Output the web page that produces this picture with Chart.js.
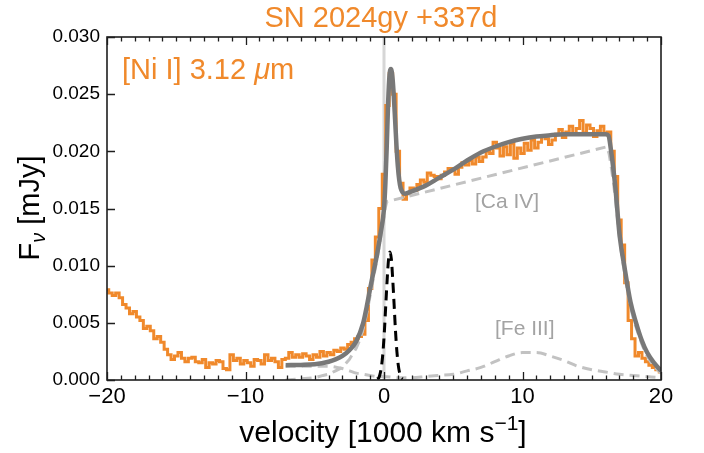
<!DOCTYPE html>
<html><head><meta charset="utf-8">
<script src="https://cdn.jsdelivr.net/npm/chart.js@4.4.0/dist/chart.umd.min.js"></script>
<style>html,body{margin:0;padding:0;background:#fff}#wrap{width:704px;height:453px}</style>
</head><body><div id="wrap"><canvas id="c" width="704" height="453"></canvas></div>
<script>
// ---- data (velocity in 1000 km/s, flux in mJy) ----
const velocity = [-20,-19.75,-19.5,-19.25,-19,-18.75,-18.5,-18.25,-18,-17.75,-17.5,-17.25,-17,-16.75,-16.5,-16.25,-16,-15.75,-15.5,-15.25,-15,-14.75,-14.5,-14.25,-14,-13.75,-13.5,-13.25,-13,-12.75,-12.5,-12.25,-12,-11.75,-11.5,-11.25,-11,-10.75,-10.5,-10.25,-10,-9.75,-9.5,-9.25,-9,-8.75,-8.5,-8.25,-8,-7.75,-7.5,-7.25,-7,-6.75,-6.5,-6.25,-6,-5.75,-5.5,-5.25,-5,-4.75,-4.5,-4.25,-4,-3.75,-3.5,-3.25,-3,-2.75,-2.5,-2.25,-2,-1.75,-1.5,-1.25,-1,-0.75,-0.5,-0.25,0,0.25,0.5,0.75,1,1.25,1.5,1.75,2,2.25,2.5,2.75,3,3.25,3.5,3.75,4,4.25,4.5,4.75,5,5.25,5.5,5.75,6,6.25,6.5,6.75,7,7.25,7.5,7.75,8,8.25,8.5,8.75,9,9.25,9.5,9.75,10,10.25,10.5,10.75,11,11.25,11.5,11.75,12,12.25,12.5,12.75,13,13.25,13.5,13.75,14,14.25,14.5,14.75,15,15.25,15.5,15.75,16,16.25,16.5,16.75,17,17.25,17.5,17.75,18,18.25,18.5,18.75,19,19.25,19.5,19.75,20];
const flux = [
0.0079,0.0076,0.0074,0.0076,
0.0072,0.0066,0.0063,0.0058,
0.0060,0.0055,0.0052,0.0045,
0.0047,0.0043,0.0036,0.0038,
0.0033,0.0027,0.0022,0.0018,
0.0021,0.0024,0.0019,0.0016,
0.0019,0.0020,0.0016,0.0015,
0.0018,0.0011,0.0015,0.0014,
0.0017,0.0016,0.0010,0.0009,
0.0022,0.0017,0.0019,0.0014,
0.0017,0.0015,0.0012,0.0018,
0.0017,0.0014,0.0022,0.0017,
0.0019,0.0016,0.0011,0.0018,
0.0019,0.0024,0.0020,0.0022,
0.0020,0.0023,0.0021,0.0018,
0.0022,0.0020,0.0025,0.0021,
0.0024,0.0022,0.0026,0.0025,
0.0028,0.0027,0.0031,0.0033,
0.0036,0.0038,0.0040,0.0052,
0.0080,0.0105,0.0125,0.0150,
0.0180,0.0240,0.0268,0.0250,
0.0200,0.0172,0.0158,0.0163,
0.0168,0.0166,0.0171,0.0175,
0.0173,0.0181,0.0179,0.0178,
0.0176,0.0179,0.0182,0.0185,
0.0184,0.0180,0.0186,0.0190,
0.0188,0.0192,0.0189,0.0195,
0.0191,0.0195,0.0200,0.0198,
0.0208,0.0203,0.0196,0.0204,
0.0197,0.0207,0.0194,0.0203,
0.0198,0.0207,0.0201,0.0210,
0.0203,0.0208,0.0213,0.0211,
0.0206,0.0210,0.0215,0.0219,
0.0212,0.0217,0.0222,0.0215,
0.0220,0.0227,0.0216,0.0223,
0.0220,0.0213,0.0218,0.0222,
0.0216,0.0217,0.0200,0.0178,
0.0140,0.0118,0.0085,0.0052,
0.0036,0.0021,0.0024,0.0019,
0.0016,0.0013,0.0011,0.0009,
0.0007];

const modelVel  = [-7.1,-6,-5,-4,-3.5,-3,-2.5,-2,-1.5,-1.25,-1,-0.75,-0.5,-0.25,0,0.1,0.2,0.3,0.4,0.5,0.6,0.7,0.8,0.9,1.0,1.1,1.2,1.35,1.5,2,3,4,5,6,7,8,9,10,11,12,13,14,15,16,16.2,16.4,16.7,17,17.4,17.8,18.2,18.6,19,19.5,20];
const modelFlux = [0.0013,0.00132,0.00138,0.0016,0.0018,0.0021,0.0026,0.0034,0.0050,0.0064,0.0080,0.0095,0.0110,0.0128,0.0150,0.0172,0.0205,0.0243,0.0267,0.0272,0.0266,0.0250,0.0228,0.0205,0.0187,0.0175,0.0168,0.0164,0.0163,0.0165,0.0170,0.0177,0.0184,0.0192,0.0199,0.0204,0.0208,0.0211,0.0213,0.0214,0.0215,0.0215,0.0215,0.0215,0.0214,0.0200,0.0169,0.0128,0.0096,0.0068,0.0050,0.0035,0.0024,0.0015,0.0008];

const caVel  = [-7.1,-6,-5,-4.4,-4,-3.5,-3,-2.5,-2,-1.75,-1.5,-1.25,-1,-0.75,-0.5,-0.25,0,0.1,0.2,16.1,16.25,16.4,16.55,16.7,16.85,17,17.2,17.4,17.6,17.8,18,18.2,18.4,18.6,18.8,19,19.25,19.5,19.75,20];
const caFlux = [0.0000,0.0001,0.0002,0.0004,0.0005,0.0008,0.0011,0.0018,0.0028,0.0035,0.0045,0.0058,0.0074,0.0090,0.0106,0.0124,0.0144,0.0151,0.0156,0.0204,0.0198,0.0187,0.0174,0.0159,0.0142,0.0124,0.0106,0.0091,0.0077,0.0064,0.0054,0.0046,0.0039,0.0032,0.0026,0.0021,0.0016,0.0012,0.0009,0.0006];

const feVel  = [-7.1,-6,-5,-4,-3.4,-3,-2.5,-2,-1.5,-1,-0.5,0,1,2,3,4,5,6,7,8,9,10,10.5,11,12,13,14,15,16,17,18,19,20];
const feFlux = [0.0012,0.0012,0.0012,0.0012,0.0011,0.0010,0.0008,0.0006,0.0005,0.0004,0.0003,0.0003,0.0002,0.0002,0.0003,0.0004,0.0005,0.0008,0.0011,0.0016,0.0021,0.0024,0.0024,0.0024,0.0021,0.0017,0.0012,0.0009,0.0007,0.0005,0.0004,0.0003,0.0002];

const niVel  = [-0.5,-0.37,-0.27,-0.17,-0.07,0.03,0.13,0.23,0.33,0.43,0.53,0.63,0.73,0.83,0.93,1.03,1.13,1.23,1.36];
const niFlux = [0.0001,0.0002,0.0006,0.0013,0.0025,0.0043,0.0066,0.0088,0.0106,0.0112,0.0106,0.0088,0.0066,0.0043,0.0025,0.0013,0.0006,0.0002,0.0001];

const zeroLineVel = [0, 0];
const zeroLineFlux = [0, 0.03];

const xTickValues = [-20, -10, 0, 10, 20];
const yTickValues = [0.000, 0.005, 0.010, 0.015, 0.020, 0.025, 0.030];
const titleText = 'SN 2024gy +337d';
const lineLabel = ['[Ni I] 3.12 ', 'μ', 'm'];
const caLabel = '[Ca IV]';
const feLabel = '[Fe III]';

// ---- helpers ----
const pts = (xs, ys) => xs.map((x, i) => ({x, y: ys[i]}));
const ORANGE = '#f0892b';
const FONT = '"Liberation Sans", Arial, Helvetica, sans-serif';

const decor = {
  id: 'decor',
  afterDatasetsDraw(chart) {
    const {ctx, chartArea: a, scales: {x, y}} = chart;
    ctx.save();
    ctx.strokeStyle = '#1e1e1e';
    ctx.lineWidth = 1.3;
    ctx.beginPath();
    for (let v = x.min; v <= x.max; v += 1) {
      const px = Math.round(x.getPixelForValue(v)) + 0.5;
      const len = xTickValues.includes(v) ? 8 : 4.5;
      ctx.moveTo(px, a.bottom); ctx.lineTo(px, a.bottom - len);
      ctx.moveTo(px, a.top); ctx.lineTo(px, a.top + len);
    }
    yTickValues.forEach(v => {
      const py = Math.round(y.getPixelForValue(v)) + 0.5;
      ctx.moveTo(a.left, py); ctx.lineTo(a.left + 8, py);
    });
    ctx.stroke();
    ctx.lineWidth = 1.6;
    ctx.strokeRect(a.left, a.top, a.right - a.left, a.bottom - a.top);
    ctx.restore();
  },
  afterDraw(chart) {
    const {ctx} = chart;
    ctx.save();
    ctx.textBaseline = 'alphabetic';
    // title
    ctx.fillStyle = ORANGE;
    ctx.font = `29px ${FONT}`;
    ctx.textAlign = 'center';
    ctx.fillText(titleText, 381, 27);
    // line label
    ctx.textAlign = 'left';
    let xx = 122;
    ctx.font = `29px ${FONT}`;
    ctx.fillText(lineLabel[0], xx, 79); xx += ctx.measureText(lineLabel[0]).width;
    ctx.font = `italic 29px ${FONT}`;
    ctx.fillText(lineLabel[1], xx, 79); xx += ctx.measureText(lineLabel[1]).width;
    ctx.font = `29px ${FONT}`;
    ctx.fillText(lineLabel[2], xx, 79);
    // component labels
    ctx.fillStyle = '#a3a3a3';
    ctx.font = `21px ${FONT}`;
    ctx.fillText(caLabel, 475, 208);
    ctx.fillText(feLabel, 495, 335);
    // x axis label
    ctx.fillStyle = '#000';
    const p1 = 'velocity [1000 km s', sup = '\u22121', p3 = ']';
    ctx.font = `30px ${FONT}`;
    const w1 = ctx.measureText(p1).width, w3 = ctx.measureText(p3).width;
    ctx.font = `21px ${FONT}`;
    const w2 = ctx.measureText(sup).width;
    let sx = 383 - (w1 + w2 + w3) / 2;
    ctx.font = `30px ${FONT}`;
    ctx.fillText(p1, sx, 442); sx += w1;
    ctx.font = `21px ${FONT}`;
    ctx.fillText(sup, sx, 430); sx += w2;
    ctx.font = `30px ${FONT}`;
    ctx.fillText(p3, sx, 442);
    // y axis label
    ctx.translate(39, 208);
    ctx.rotate(-Math.PI / 2);
    const q1 = 'F', q2 = '\u03bd', q3 = ' [mJy]';
    ctx.font = `29px ${FONT}`;
    const v1 = ctx.measureText(q1).width, v3 = ctx.measureText(q3).width;
    ctx.font = `italic 20px ${FONT}`;
    const v2 = ctx.measureText(q2).width;
    let sy = -(v1 + v2 + v3) / 2;
    ctx.font = `29px ${FONT}`;
    ctx.fillText(q1, sy, 0); sy += v1;
    ctx.font = `italic 20px ${FONT}`;
    ctx.fillText(q2, sy, 6); sy += v2;
    ctx.font = `29px ${FONT}`;
    ctx.fillText(q3, sy, 0);
    ctx.restore();
  }
};

new Chart(document.getElementById('c'), {
  type: 'line',
  data: {
    datasets: [
      { label: 'model', data: pts(modelVel, modelFlux), borderColor: '#787878', borderWidth: 4.5,
        pointRadius: 0, cubicInterpolationMode: 'monotone', order: 0 },
      { label: 'Ni', data: pts(niVel, niFlux), borderColor: '#000', borderWidth: 3, borderDash: [10, 6],
        pointRadius: 0, cubicInterpolationMode: 'monotone', order: 1 },
      { label: 'CaIV', data: pts(caVel, caFlux), borderColor: '#c2c2c2', borderWidth: 3, borderDash: [10, 6],
        pointRadius: 0, tension: 0, order: 2 },
      { label: 'FeIII', data: pts(feVel, feFlux), borderColor: '#c2c2c2', borderWidth: 3, borderDash: [10, 6],
        pointRadius: 0, cubicInterpolationMode: 'monotone', order: 3 },
      { label: 'data', data: pts(velocity, flux), borderColor: ORANGE, borderWidth: 3,
        pointRadius: 0, stepped: 'middle', order: 4 },
      { label: 'zero', data: pts(zeroLineVel, zeroLineFlux), borderColor: '#d6d6d6', borderWidth: 3,
        pointRadius: 0, order: 5 }
    ]
  },
  options: {
    responsive: false,
    devicePixelRatio: 1,
    animation: false,
    events: [],
    layout: { padding: { top: 37, right: 43, left: 0, bottom: 0 } },
    plugins: { legend: { display: false }, tooltip: { enabled: false }, title: { display: false } },
    scales: {
      x: {
        type: 'linear', min: -20, max: 20,
        afterFit(s) { s.height = 73; },
        grid: { display: false, drawTicks: false },
        border: { display: false },
        afterBuildTicks(s) { s.ticks = xTickValues.map(v => ({value: v})); },
        ticks: { color: '#000', font: { family: FONT, size: 22 }, padding: 4, maxRotation: 0,
          callback: v => (v < 0 ? '\u2212' + Math.abs(v) : String(v)) }
      },
      y: {
        type: 'linear', min: 0, max: 0.03,
        afterFit(s) { s.width = 107; },
        grid: { display: false, drawTicks: false },
        border: { display: false },
        afterBuildTicks(s) { s.ticks = yTickValues.map(v => ({value: v})); },
        ticks: { color: '#000', font: { family: FONT, size: 19 }, padding: 7,
          callback: v => v.toFixed(3) }
      }
    }
  },
  plugins: [decor]
});
</script>
</body></html>
